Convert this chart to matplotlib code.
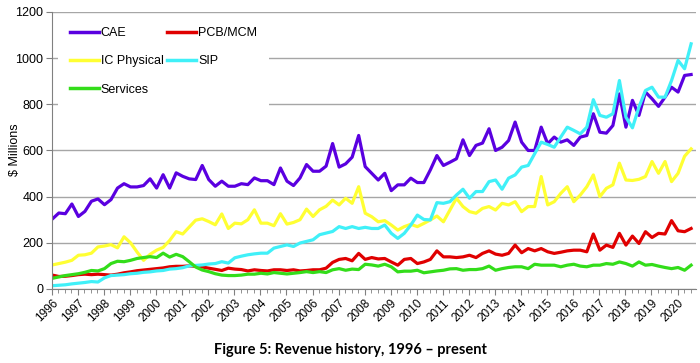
import numpy as np
import matplotlib
matplotlib.use("Agg")
import matplotlib.pyplot as plt
from matplotlib.ticker import MultipleLocator

plt.rcParams["font.family"] = ["Liberation Sans", "DejaVu Sans"]

# quarterly revenue, 1996 Q1 onwards ($ millions)
start_year = 1996
cae = [303, 329, 326, 368, 314, 336, 380, 390, 365, 387,
       437, 456, 442, 442, 448, 477, 437, 495, 437, 503,
       488, 477, 474, 535, 474, 445, 467, 445, 445, 456,
       452, 481, 469, 469, 452, 524, 467, 448, 481, 539,
       510, 510, 532, 630, 528, 542, 571, 665, 530, 501,
       472, 501, 426, 451, 451, 480, 461, 461, 516, 578,
       535, 549, 564, 646, 578, 622, 632, 694, 600, 614,
       643, 723, 636, 600, 600, 701, 629, 658, 636, 646,
       622, 658, 665, 759, 679, 675, 708, 845, 701, 817,
       752, 853, 824, 791, 831, 874, 853, 925, 929]
pcb_mcm = [60, 54, 55, 58, 62, 64, 62, 64, 62, 60,
           64, 70, 74, 79, 82, 85, 88, 91, 96, 98,
           98, 100, 98, 95, 90, 85, 80, 90, 86, 84,
           78, 83, 80, 78, 83, 83, 80, 83, 78, 80,
           83, 83, 90, 115, 128, 132, 122, 154, 128, 136,
           130, 132, 117, 103, 128, 132, 110, 117, 128, 165,
           139, 139, 136, 139, 146, 136, 154, 165, 151, 146,
           154, 190, 157, 175, 165, 175, 161, 154, 159, 165,
           168, 168, 161, 238, 168, 190, 180, 241, 190, 229,
           197, 248, 223, 241, 238, 296, 252, 248, 262]
ic_physical = [104, 110, 116, 124, 146, 148, 155, 182, 186, 192,
               178, 226, 200, 160, 124, 150, 168, 180, 210, 248,
               238, 268, 298, 304, 292, 278, 325, 262, 285, 282,
               300, 343, 285, 285, 274, 326, 281, 288, 300, 346,
               314, 343, 358, 385, 364, 393, 371, 443, 328, 313,
               291, 296, 277, 255, 270, 280, 270, 284, 299, 316,
               291, 342, 393, 357, 335, 328, 349, 357, 342, 371,
               364, 378, 335, 357, 357, 487, 364, 378, 414, 443,
               378, 407, 443, 494, 400, 436, 451, 545, 472, 470,
               475, 487, 552, 501, 552, 465, 501, 575, 607]
sip = [14, 16, 18, 22, 25, 28, 32, 30, 48, 58,
       60, 62, 66, 68, 72, 74, 78, 80, 86, 88,
       92, 100, 102, 104, 108, 110, 118, 112, 135, 142,
       148, 152, 155, 155, 177, 184, 191, 184, 199, 206,
       213, 235, 242, 249, 270, 262, 270, 262, 267, 262,
       262, 277, 241, 219, 241, 277, 320, 301, 299, 374,
       371, 378, 407, 432, 393, 422, 422, 465, 472, 432,
       480, 494, 528, 535, 586, 636, 626, 614, 658, 701,
       687, 672, 701, 820, 752, 744, 759, 903, 744, 698,
       788, 860, 874, 831, 831, 903, 990, 954, 1062]
services = [46, 52, 58, 62, 66, 72, 80, 78, 88, 110,
            120, 118, 124, 132, 136, 140, 136, 155, 138, 150,
            140, 118, 95, 82, 75, 66, 60, 58, 58, 60,
            64, 64, 68, 65, 71, 68, 65, 68, 71, 75,
            71, 75, 71, 83, 88, 81, 86, 84, 107, 104,
            99, 107, 96, 74, 77, 77, 81, 70, 74, 78,
            81, 87, 88, 81, 84, 84, 88, 99, 81, 88,
            93, 96, 96, 88, 107, 103, 103, 103, 96, 103,
            107, 99, 96, 103, 103, 110, 107, 117, 110, 99,
            117, 103, 106, 99, 93, 88, 93, 81, 103]

series = [("CAE", cae, "#5a00e0"),
          ("PCB/MCM", pcb_mcm, "#e00000"),
          ("IC Physical", ic_physical, "#ffff33"),
          ("SIP", sip, "#40f0f8"),
          ("Services", services, "#33dd1a")]

x = start_year + np.arange(len(cae)) / 4.0 + 0.02

fig = plt.figure(figsize=(7.0, 3.63), dpi=100)
ax = fig.add_axes([0.074, 0.204, 0.92, 0.763])

lines = {}
for label, vals, col in series:
    lines[label], = ax.plot(x, vals, color=col, lw=2.3, label=label,
                            solid_joinstyle="round")

ax.set_ylim(0, 1200)
ax.set_xlim(1996, 2020.7)
ax.yaxis.set_major_locator(MultipleLocator(200))
ax.grid(axis="y", color="#a6a6a6", lw=1.0)
ax.set_axisbelow(True)

years = list(range(1996, 2021))
ax.set_xticks(years)
ax.set_xticklabels([str(y) for y in years], rotation=45, ha="right",
                   va="top", rotation_mode="anchor", fontsize=8.5)
ax.xaxis.set_minor_locator(MultipleLocator(0.25))
ax.tick_params(axis="x", which="major", length=4, color="#808080", pad=2)
ax.tick_params(axis="x", which="minor", length=3, color="#808080")
ax.tick_params(axis="y", length=4, color="#808080", labelsize=9, pad=2)

for s in ["top", "right"]:
    ax.spines[s].set_visible(False)
for s in ["left", "bottom"]:
    ax.spines[s].set_color("#808080")

fig.text(0.021, 0.587, "$ Millions", rotation=90, ha="center", va="center",
         fontsize=9)

# row-wise legend order (matplotlib fills columns first)
order = ["CAE", "IC Physical", "Services", "PCB/MCM", "SIP"]
leg = ax.legend([lines[k] for k in order], order,
                loc="upper left", bbox_to_anchor=(0.009, 0.99), ncol=2,
                fontsize=9, frameon=True, facecolor="white", edgecolor="none",
                framealpha=1, handlelength=2.3, handletextpad=0.15,
                labelspacing=1.3, columnspacing=0.3, borderpad=1.0,
                borderaxespad=0)
for line in leg.get_lines():
    line.set_linewidth(2.5)

fig.text(0.5, 0.036, "Figure 5: Revenue history, 1996 \u2013 present",
         ha="center", va="center", fontsize=10.5, fontweight="bold",
         family=["Lato", "DejaVu Sans"])

fig.savefig("out.png", dpi=100)
